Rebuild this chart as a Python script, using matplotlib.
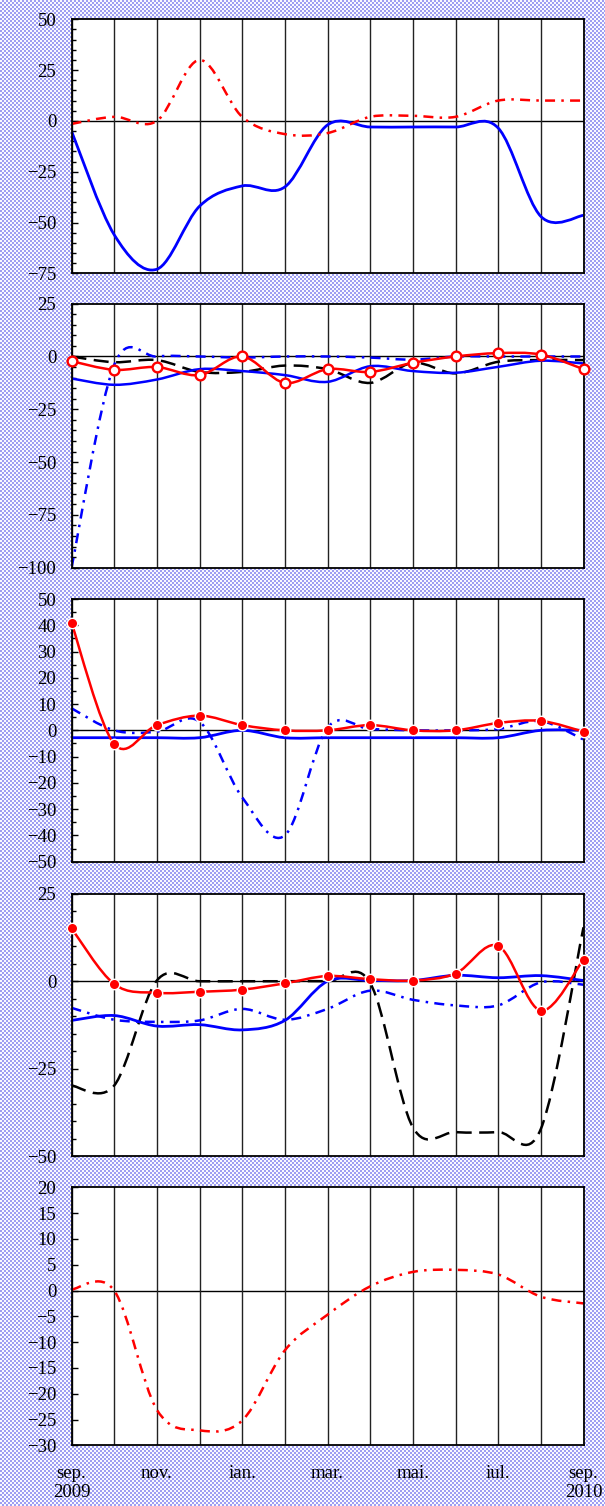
import numpy as np
import matplotlib.pyplot as plt
from matplotlib.path import Path
from matplotlib.patches import PathPatch
from matplotlib.ticker import MultipleLocator

plt.rcParams["font.family"] = ["Liberation Serif", "DejaVu Serif"]

# months sep. 2009 .. sep. 2010
months = np.arange(13)
month_labels = ["sep.\n2009", "", "nov.", "", "ian.", "", "mar.", "",
                "mai.", "", "iul.", "", "sep.\n2010"]

# panel 1
p1_blue = [-5, -56, -73, -42, -32, -32.5, -2, -3, -3, -3, -3.5, -47, -46.5]
p1_red = [-1.5, 2, 0, 30, 2, -6.5, -6, 2, 2.5, 2, 10, 10, 10]

# panel 2
p2_red = [-2.2, -6.3, -5, -8.8, 0, -12.5, -6, -7.3, -3, 0, 1.6, 0.9, -6]
p2_black = [0, -2.7, -1.7, -7.3, -7.3, -4.3, -6, -12.5, -3, -8, -2.5, -1.7, -1.7]
p2_blue = [-10.4, -13.4, -10.9, -6, -6.9, -8.8, -12, -4.6, -6.9, -7.7, -4.9, -2, -3.3]
p2_blue_dd = [-100, -4, 0, 0, -0.5, 0, 0, -0.5, -1.5, 0, 0, 0, 0]

# panel 3
p3_red = [40.9, -5.2, 2, 5.6, 2, 0, 0, 2, 0, 0, 2.8, 3.6, -0.5]
p3_blue = [-2.8, -2.8, -2.8, -2.8, 0, -2.8, -2.8, -2.8, -2.8, -2.8, -2.8, 0, 0]
p3_blue_dd = [8.4, 0, -0.5, 3.3, -25.5, -40, 1, 0.5, 0, 0, 0.5, 3.5, -3.5]

# panel 4
p4_red = [15.1, -0.8, -3.3, -3, -2.4, -0.6, 1.5, 0.6, 0.2, 2.2, 10.1, -8.4, 6.2]
p4_blue = [-11.2, -9.8, -12.8, -12.4, -13.9, -11.2, 0, 0.2, 0.2, 1.7, 1, 1.6, 0.2]
p4_blue_dd = [-7.6, -11, -11.6, -11.2, -7.9, -11, -7.9, -2.7, -5.3, -6.9, -6.9, -0.3, -1]
p4_black = [-29.8, -29.8, 0.2, 0, 0, 0, 0, -0.5, -41.7, -43.1, -43.1, -42.2, 15.4]

# panel 5
p5_red = [0.2, 0, -23.1, -27.1, -25.2, -11.6, -4.7, 0.8, 3.6, 4, 3.1, -1.2, -2.5]

DASHDOT = (0, (4, 2.5, 1, 2.5))
DASHED = (0, (6, 3))


def smooth_line(ax, x, y, **kw):
    """Excel-like smoothed line: cubic Bezier through every point."""
    x = np.asarray(x, float)
    y = np.asarray(y, float)
    ypad = np.r_[y[0], y, y[-1]]
    xpad = np.r_[x[0], x, x[-1]]
    my = (ypad[2:] - ypad[:-2]) / 2
    mx = (xpad[2:] - xpad[:-2]) / 2
    verts = [(x[0], y[0])]
    codes = [Path.MOVETO]
    for i in range(len(x) - 1):
        verts += [(x[i] + mx[i] / 3, y[i] + my[i] / 3),
                  (x[i + 1] - mx[i + 1] / 3, y[i + 1] - my[i + 1] / 3),
                  (x[i + 1], y[i + 1])]
        codes += [Path.CURVE4] * 3
    patch = PathPatch(Path(verts, codes), fill=False, capstyle="butt", **kw)
    ax.add_patch(patch)
    return patch


W, H = 605, 1506
fig = plt.figure(figsize=(W / 100, H / 100), dpi=100)

# dotted lavender background (2px checker)
yy, xx = np.mgrid[0:H, 0:W]
chk = ((yy // 2 + xx // 2) % 2)[..., None]
bg = chk * np.array([0.62, 0.62, 0.95]) + (1 - chk) * np.array([0.98, 0.98, 1.0])
fig.figimage(bg, xo=0, yo=0, origin="upper", zorder=-10)

left, right = 71.5, 583.5
panels = [(19.3, 273.3), (303.7, 567.7), (599, 861.7), (893.7, 1156.3), (1187.3, 1445.3)]
limits = [(-75, 50, 25, 5), (-100, 25, 25, 5), (-50, 50, 10, 5), (-50, 25, 25, 5), (-30, 20, 5, None)]

axes = []
for (top, bot), (lo, hi, major, minor) in zip(panels, limits):
    ax = fig.add_axes([left / W, 1 - bot / H, (right - left) / W, (bot - top) / H])
    ax.set_zorder(1)
    ax.set_facecolor("white")
    ax.set_xlim(0, 12)
    ax.set_ylim(lo, hi)
    ax.yaxis.set_major_locator(MultipleLocator(major))
    if minor:
        ax.yaxis.set_minor_locator(MultipleLocator(minor))
    ax.set_xticks(months)
    ax.set_xticklabels([])
    ax.grid(axis="x", color="#222222", lw=1.0, zorder=1)
    ax.axhline(0, color="black", lw=1.0, zorder=1.5)
    ax.tick_params(axis="x", length=0)
    ax.tick_params(axis="y", which="major", direction="in", length=4.5, width=1,
                   labelsize=13.5, pad=11)
    ax.tick_params(axis="y", which="minor", direction="in", length=3, width=1)
    for s in ax.spines.values():
        s.set_linewidth(1.3)
        s.set_zorder(5)
    axes.append(ax)

ax1, ax2, ax3, ax4, ax5 = axes

# panel 1
smooth_line(ax1, months, p1_blue, color="blue", lw=2.0, zorder=3)
smooth_line(ax1, months, p1_red, color="red", lw=1.8, linestyle=DASHDOT, zorder=3)

# panel 2
smooth_line(ax2, months, p2_blue_dd, color="blue", lw=1.8, linestyle=DASHDOT, zorder=3)
smooth_line(ax2, months, p2_black, color="black", lw=1.8, linestyle=DASHED, zorder=3)
smooth_line(ax2, months, p2_blue, color="blue", lw=1.8, zorder=3)
smooth_line(ax2, months, p2_red, color="red", lw=1.8, zorder=4)
ax2.plot(months, p2_red, ls="none", marker="o", ms=7, mfc="white", mec="red",
         mew=1.7, zorder=6, clip_on=False)

# panel 3
smooth_line(ax3, months, p3_blue_dd, color="blue", lw=1.8, linestyle=DASHDOT, zorder=3)
smooth_line(ax3, months, p3_blue, color="blue", lw=2.0, zorder=3)
smooth_line(ax3, months, p3_red, color="red", lw=1.8, zorder=4)
ax3.plot(months, p3_red, ls="none", marker="o", ms=7.5, mfc="red", mec="white",
         mew=1.0, zorder=6, clip_on=False)

# panel 4
smooth_line(ax4, months, p4_black, color="black", lw=1.8, linestyle=DASHED, zorder=3)
smooth_line(ax4, months, p4_blue_dd, color="blue", lw=1.8, linestyle=DASHDOT, zorder=3)
smooth_line(ax4, months, p4_blue, color="blue", lw=2.0, zorder=3)
smooth_line(ax4, months, p4_red, color="red", lw=1.8, zorder=4)
ax4.plot(months, p4_red, ls="none", marker="o", ms=7.5, mfc="red", mec="white",
         mew=1.0, zorder=6, clip_on=False)

# panel 5
smooth_line(ax5, months, p5_red, color="red", lw=1.8, linestyle=DASHDOT, zorder=3)
ax5.set_xticklabels(month_labels)
ax5.tick_params(axis="x", labelsize=13.5, pad=14)

fig.savefig("out.png", dpi=100)
